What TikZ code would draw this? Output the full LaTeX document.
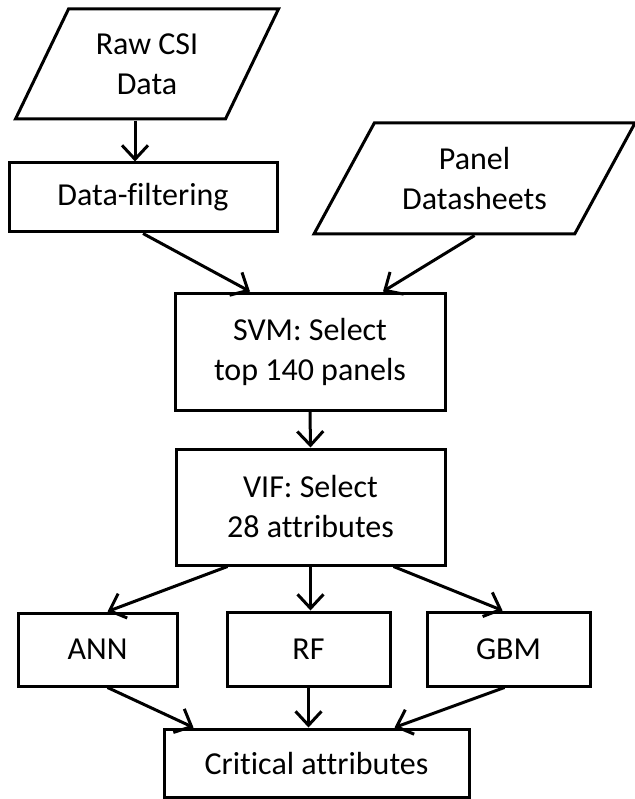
\documentclass[tikz,border=0pt]{standalone}
\usepackage{fontspec}
\setmainfont[Ligatures=NoCommon]{Carlito}
\usetikzlibrary{arrows.meta,shapes.geometric}

\begin{document}
\begin{tikzpicture}[x=1pt,y=-1pt,
  font=\fontsize{32}{40}\selectfont,
  box/.style={draw, line width=3pt, align=center, inner sep=0pt},
  data/.style={box, trapezium, trapezium left angle=#1, trapezium right angle=180-#1,
    trapezium stretches body},
  arr/.style={line width=3pt, -{Straight Barb[length=14pt,width=26pt,line width=3pt]}}]
  \useasboundingbox (0,0) rectangle (634,799);

  \node[data=49, minimum width=263pt, minimum height=110pt] (raw) at (147,64) {Raw CSI\\Data};
  \node[box, minimum width=268pt, minimum height=69pt] (filt) at (143,197.5) {Data-filtering};
  \node[data=46, minimum width=321pt, minimum height=111pt] (panel) at (474.5,178.5) {Panel\\Datasheets};
  \node[box, minimum width=270pt, minimum height=117pt] (svm) at (310,351.5) {SVM: Select\\top 140 panels};
  \node[box, minimum width=269pt, minimum height=116pt] (vif) at (310.5,507) {VIF: Select\\28 attributes};
  \node[box, minimum width=159pt, minimum height=73pt] (ann) at (97.5,649.5) {ANN};
  \node[box, minimum width=163pt, minimum height=74pt] (rf) at (308.5,649) {RF};
  \node[box, minimum width=163pt, minimum height=74pt] (gbm) at (508.5,649) {GBM};
  \node[box, minimum width=305pt, minimum height=68pt] (crit) at (316.5,763) {Critical attributes};

  \draw[arr] ([xshift=-8pt]filt.north |- raw.south) -- ([xshift=-8pt]filt.north);
  \draw[arr] (filt.south) -- ([xshift=-60pt]svm.north);
  \draw[arr] (panel.south) -- ([xshift=73pt]svm.north);
  \draw[arr] (svm.south) -- (vif.north);
  \draw[arr] ([xshift=-83pt]vif.south) -- ([xshift=10pt]ann.north);
  \draw[arr] (vif.south) -- (vif.south |- rf.north);
  \draw[arr] ([xshift=83pt]vif.south) -- ([xshift=-6pt]gbm.north);
  \draw[arr] ([xshift=10pt]ann.south) -- ([xshift=-123pt]crit.north);
  \draw[arr] (rf.south) -- (rf.south |- crit.north);
  \draw[arr] ([xshift=-4pt]gbm.south) -- ([xshift=78pt]crit.north);
\end{tikzpicture}
\end{document}
